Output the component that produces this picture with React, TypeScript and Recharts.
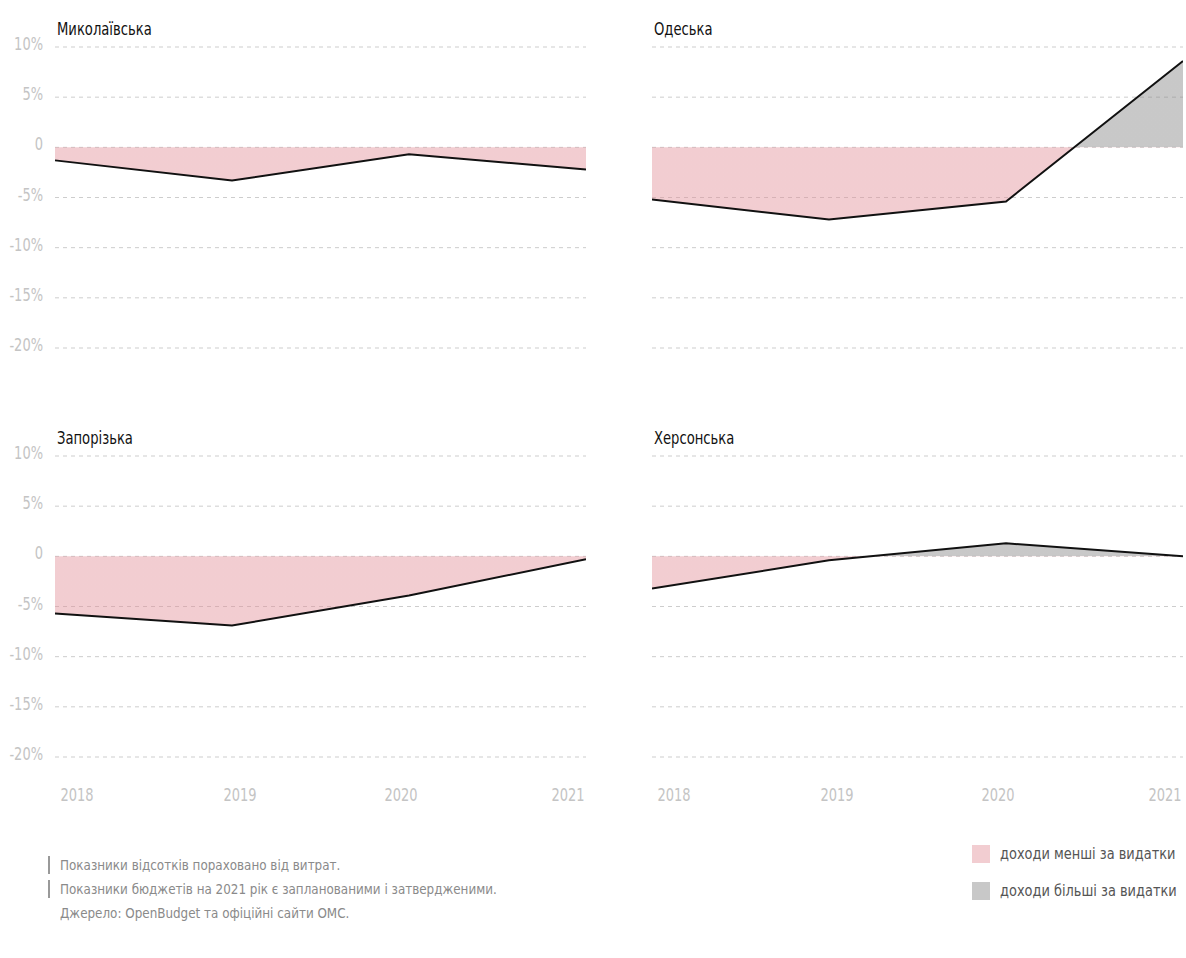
import { Area, AreaChart, CartesianGrid, XAxis, YAxis } from "recharts"

const years = ["2018", "2019", "2020", "2021"]
const mykolaiv = [-1.3, -3.3, -0.7, -2.2]
const odesa = [-5.2, -7.2, -5.4, 8.6]
const zaporizhzhia = [-5.7, -6.9, -3.9, -0.3]
const kherson = [-3.2, -0.4, 1.3, 0]
const yTicks = [-20, -15, -10, -5, 0, 5, 10]

const font = "'DejaVu Sans Condensed', 'DejaVu Sans', sans-serif"
const pink = "#e29099"
const grey = "#858585"

const YTick = (props: any) => {
  const { x, y, payload } = props
  const v = payload.value
  return (
    <text
      transform={`translate(${x - 4},${y + 3}) scale(0.85,1)`}
      textAnchor="end"
      fill="#c4c4c4"
      fontSize={17}
      fontFamily={font}
    >
      {v === 0 ? "0" : `${v}%`}
    </text>
  )
}

const XTick = (props: any) => {
  const { x, y, payload, index } = props
  const shift = [22, 8, -8, -18][index] ?? 0
  return (
    <text
      transform={`translate(${x + shift},${y + 36}) scale(0.85,1)`}
      textAnchor="middle"
      fill="#c4c4c4"
      fontSize={17}
      fontFamily={font}
    >
      {payload.value}
    </text>
  )
}

type PanelProps = {
  id: string
  title: string
  values: number[]
  left: number
  top: number
  showY: boolean
  showX: boolean
}

function Panel({ id, title, values, left, top, showY, showX }: PanelProps) {
  const data = years.map((year, i) => ({ year, value: values[i] }))
  const hi = Math.max(0, ...values)
  const lo = Math.min(0, ...values)
  const off = hi / (hi - lo)
  const yw = showY ? 47 : 0
  return (
    <div style={{ position: "absolute", left, top }}>
      <div
        style={{
          position: "absolute",
          left: yw + 2,
          top: -1,
          fontFamily: font,
          fontSize: 17,
          color: "#111",
          whiteSpace: "nowrap",
          transform: "scaleX(0.86)",
          transformOrigin: "left",
        }}
      >
        {title}
      </div>
      <AreaChart
        width={yw + 531}
        height={378}
        data={data}
        margin={{ top: 27, right: 0, bottom: showX ? 0 : 50, left: 0 }}
      >
        <defs>
          <linearGradient id={id} x1="0" y1="0" x2="0" y2="1">
            <stop offset={off} stopColor={grey} stopOpacity={0.45} />
            <stop offset={off} stopColor={pink} stopOpacity={0.45} />
          </linearGradient>
        </defs>
        <CartesianGrid vertical={false} stroke="#cdcdcd" strokeDasharray="4 4" />
        <XAxis
          dataKey="year"
          hide={!showX}
          axisLine={false}
          tickLine={false}
          height={50}
          interval={0}
          tick={<XTick />}
        />
        <YAxis
          type="number"
          domain={[-20, 10]}
          ticks={yTicks}
          hide={!showY}
          width={47}
          axisLine={false}
          tickLine={false}
          tick={<YTick />}
        />
        <Area
          type="linear"
          dataKey="value"
          stroke="#111"
          strokeWidth={2}
          fill={`url(#${id})`}
          fillOpacity={1}
          isAnimationActive={false}
          dot={false}
          activeDot={false}
        />
      </AreaChart>
    </div>
  )
}

const notes = [
  "Показники відсотків пораховано від витрат.",
  "Показники бюджетів на 2021 рік є запланованими і затвердженими.",
]
const source = "Джерело: OpenBudget та офіційні сайти ОМС."
const legendItems = [
  { label: "доходи менші за видатки", color: "#f2cdd1" },
  { label: "доходи більші за видатки", color: "#c8c8c8" },
]

const squeeze = { display: "inline-block", whiteSpace: "nowrap", transform: "scaleX(0.95)", transformOrigin: "left" } as const

export default function App() {
  return (
    <div style={{ position: "fixed", left: 0, top: 0, width: 1186, height: 958, background: "#fff", fontFamily: font }}>
      <Panel id="g1" title="Миколаївська" values={mykolaiv} left={8} top={20} showY showX={false} />
      <Panel id="g2" title="Одеська" values={odesa} left={652} top={20} showY={false} showX={false} />
      <Panel id="g3" title="Запорізька" values={zaporizhzhia} left={8} top={429} showY showX />
      <Panel id="g4" title="Херсонська" values={kherson} left={652} top={429} showY={false} showX />

      <div style={{ position: "absolute", left: 48, top: 856, fontSize: 14, color: "#8a8a8a" }}>
        {notes.map((n) => (
          <div key={n} style={{ borderLeft: "2px solid #999", paddingLeft: 10, height: 18, lineHeight: "18px", marginBottom: 6 }}>
            <span style={squeeze}>{n}</span>
          </div>
        ))}
        <div style={{ paddingLeft: 12, lineHeight: "18px" }}>
          <span style={squeeze}>{source}</span>
        </div>
      </div>

      <div style={{ position: "absolute", left: 972, top: 844, fontSize: 15, color: "#555" }}>
        {legendItems.map((it) => (
          <div key={it.label} style={{ display: "flex", alignItems: "center", height: 20, marginBottom: 17, whiteSpace: "nowrap" }}>
            <span style={{ width: 18, height: 18, background: it.color, marginRight: 10, display: "inline-block", flex: "none" }} />
            <span style={{ display: "inline-block", transform: "scaleX(0.96)", transformOrigin: "left" }}>{it.label}</span>
          </div>
        ))}
      </div>
    </div>
  )
}
